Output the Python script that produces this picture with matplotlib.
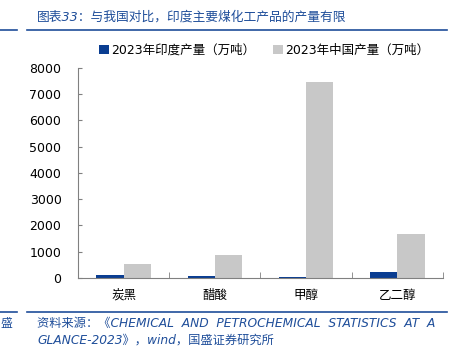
import numpy as np
import matplotlib
matplotlib.use('Agg')
import matplotlib.pyplot as plt

plt.rcParams['font.family'] = ['DejaVu Sans', 'Noto Sans CJK SC']

categories = ['炭黑', '醋酸', '甲醇', '乙二醇']
india = [100, 70, 50, 210]
china = [530, 880, 7450, 1680]
series_names = ['2023年印度产量（万吨）', '2023年中国产量（万吨）']

blue = '#0A3D91'
grey = '#C8C8C8'
text_blue = '#1F4E9A'

fig = plt.figure(figsize=(4.57, 3.47), dpi=100)
ax = fig.add_axes([0.171, 0.199, 0.798, 0.605])

x = np.arange(len(categories))
w = 0.3
ax.bar(x - w / 2, india, width=w, color=blue, label=series_names[0])
ax.bar(x + w / 2, china, width=w, color=grey, label=series_names[1])

ax.set_xlim(-0.5, len(categories) - 0.5)
ax.set_ylim(0, 8000)
ax.set_yticks(range(0, 8001, 1000))
ax.set_xticks(x)
ax.set_xticklabels(categories, fontsize=9, family=['Noto Sans CJK SC'])
ax.set_xticks(np.arange(-0.5, len(categories)), minor=True)
ax.tick_params(axis='x', which='major', length=0, pad=8)
ax.tick_params(axis='x', which='minor', direction='in', length=4, color='#808080')
ax.tick_params(axis='y', direction='in', length=3, color='#808080', labelsize=9, pad=12)
for s in ['top', 'right']:
    ax.spines[s].set_visible(False)
for s in ['left', 'bottom']:
    ax.spines[s].set_color('#808080')

ax.legend(loc='lower center', bbox_to_anchor=(0.51, 1.0), ncol=2, frameon=False,
          handlelength=0.8, handleheight=0.8, handletextpad=0.2, columnspacing=1.4,
          prop={'family': ['DejaVu Sans', 'Noto Sans CJK SC'], 'size': 9})

# header / footer
fig.text(37 / 457, 1 - 17 / 347, '图表33：与我国对比，印度主要煤化工产品的产量有限',
         color=text_blue, fontsize=9.2, style='italic', va='center',
         family=['DejaVu Sans', 'Noto Sans CJK SC'])
for yy in [30, 312]:
    fig.add_artist(plt.Line2D([0, 17 / 457], [1 - yy / 347] * 2, color=text_blue, lw=1.2))
    fig.add_artist(plt.Line2D([27 / 457, 447 / 457], [1 - yy / 347] * 2, color=text_blue, lw=1.2))
fig.text(0, 1 - 323 / 347, '盛', color=text_blue, fontsize=8.5, va='center',
         family=['Noto Sans CJK SC'])
fig.text(37 / 457, 1 - 323 / 347,
         '资料来源：《CHEMICAL  AND  PETROCHEMICAL  STATISTICS  AT  A',
         color=text_blue, fontsize=8.8, style='italic', va='center')
fig.text(37 / 457, 1 - 340 / 347, 'GLANCE-2023》，wind，国盛证券研究所',
         color=text_blue, fontsize=8.8, style='italic', va='center')

fig.savefig('out.png', dpi=100)
